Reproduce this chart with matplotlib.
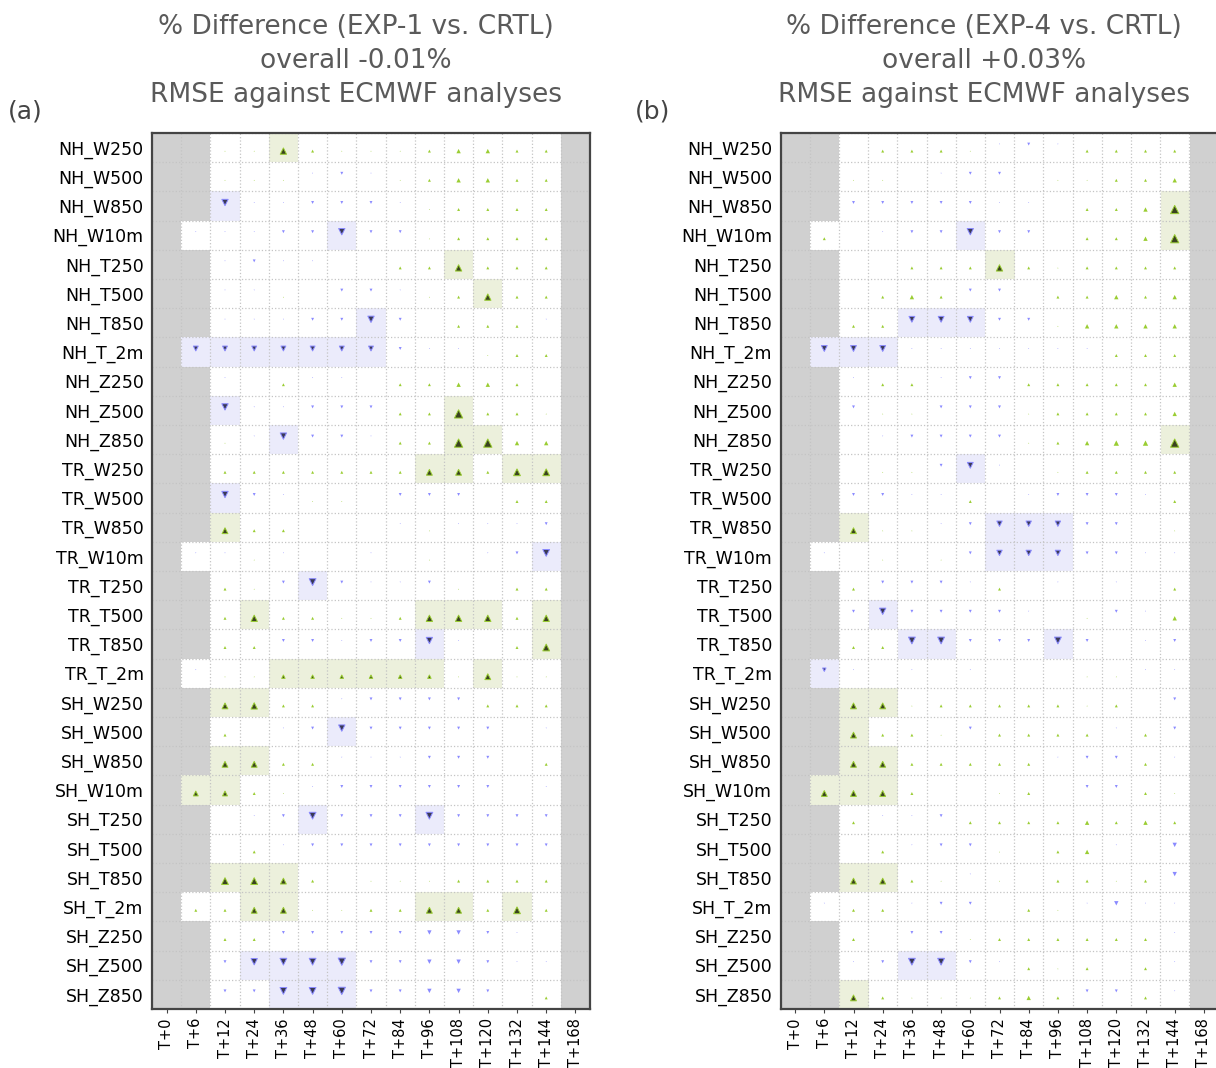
import numpy as np
import matplotlib
matplotlib.use("Agg")
import matplotlib.pyplot as plt

N = np.nan

rows = ["NH_W250", "NH_W500", "NH_W850", "NH_W10m", "NH_T250", "NH_T500", "NH_T850",
        "NH_T_2m", "NH_Z250", "NH_Z500", "NH_Z850",
        "TR_W250", "TR_W500", "TR_W850", "TR_W10m", "TR_T250", "TR_T500", "TR_T850", "TR_T_2m",
        "SH_W250", "SH_W500", "SH_W850", "SH_W10m", "SH_T250", "SH_T500", "SH_T850",
        "SH_T_2m", "SH_Z250", "SH_Z500", "SH_Z850"]
steps = ["T+0", "T+6", "T+12", "T+24", "T+36", "T+48", "T+60", "T+72", "T+84",
         "T+96", "T+108", "T+120", "T+132", "T+144", "T+168"]

# % difference per row / lead time (EXP-1 vs CRTL)
vals_a = [
    [N, N, .1, .1, .65, .3, .1, .1, .1, .3, .45, .45, .3, .3, N],
    [N, N, .1, .1, .1, -.1, -.3, -.1, .1, .3, .45, .45, .3, .3, N],
    [N, N, -.65, -.1, -.1, -.3, -.3, -.3, -.1, .1, .3, .3, .3, .3, N],
    [N, -.1, -.1, -.1, -.3, -.3, -.65, -.3, -.3, .1, .3, .3, .3, .3, N],
    [N, N, -.1, -.3, -.1, -.1, 0, 0, .3, .3, .65, .3, .3, .3, N],
    [N, N, -.1, -.1, .1, 0, -.3, -.3, -.1, .1, .3, .65, .3, .3, N],
    [N, N, -.1, -.1, -.1, -.3, -.3, -.65, -.3, 0, .3, .3, .3, -.1, N],
    [N, -.5, -.5, -.5, -.5, -.5, -.5, -.5, -.3, -.1, -.1, .1, .3, .3, N],
    [N, N, -.1, 0, .3, -.1, -.1, 0, .3, .3, .45, .45, .3, 0, N],
    [N, N, -.65, -.1, -.1, -.3, -.3, -.3, .3, .3, .85, .3, .3, .1, N],
    [N, N, .1, -.1, -.65, -.3, -.3, -.1, .3, .3, .85, .85, .45, .45, N],
    [N, N, .3, .3, .3, .3, .3, .3, .3, .6, .6, .3, .7, .7, N],
    [N, N, -.65, -.3, -.1, .1, .1, 0, -.3, -.3, -.3, 0, .3, .3, N],
    [N, N, .6, .3, .3, 0, 0, 0, -.1, .1, -.1, -.1, -.1, -.3, N],
    [N, -.1, -.1, .1, -.1, 0, 0, -.1, 0, .1, 0, -.1, -.3, -.7, N],
    [N, N, .3, .1, -.3, -.7, -.3, -.1, -.1, -.3, .1, 0, .3, .3, N],
    [N, N, .3, .65, .3, .3, .1, .1, .3, .65, .65, .65, .3, .65, N],
    [N, N, .3, .3, -.3, -.3, -.1, -.3, -.3, -.65, -.1, 0, .3, .7, N],
    [N, -.1, .1, .1, .35, .35, .35, .35, .35, .35, .1, .6, .1, .1, N],
    [N, N, .6, .65, .3, .3, -.1, -.3, -.3, -.3, -.3, .3, .3, .3, N],
    [N, N, .3, 0, -.1, -.3, -.65, -.3, -.3, -.3, -.3, -.3, 0, -.1, N],
    [N, N, .6, .6, .3, .3, -.1, -.1, -.1, -.3, -.3, -.3, 0, .3, N],
    [N, .5, .5, .3, .1, -.1, -.3, -.3, -.3, -.3, -.3, -.3, 0, -.1, N],
    [N, N, 0, -.1, -.3, -.7, -.3, -.3, -.3, -.7, -.3, -.3, -.3, -.3, N],
    [N, N, 0, .3, -.1, -.3, -.3, -.3, -.3, -.3, -.3, -.3, -.3, -.3, N],
    [N, N, .7, .7, .6, .3, 0, .1, .1, .1, .3, .3, .3, .3, N],
    [N, .3, .3, .6, .6, .1, .1, .3, .3, .6, .6, .3, .7, .3, N],
    [N, N, .3, .3, -.3, -.3, -.3, -.3, -.3, -.45, -.45, -.3, -.1, 0, N],
    [N, N, -.3, -.65, -.7, -.7, -.75, -.3, -.3, -.45, -.45, -.3, -.1, -.1, N],
    [N, N, -.3, -.3, -.7, -.7, -.75, -.3, -.3, -.45, -.45, -.3, 0, .3, N],
]
# significant cells (column indices per row)
sig_a = [[4], [], [2], [6], [10], [11], [7], [1, 2, 3, 4, 5, 6, 7], [], [2, 10],
         [4, 10, 11], [9, 10, 12, 13], [2], [2], [13], [5], [3, 9, 10, 11, 13], [9, 13],
         [4, 5, 6, 7, 8, 9, 11], [2, 3], [6], [2, 3], [1, 2], [5, 9], [], [2, 3, 4],
         [3, 4, 9, 10, 12], [], [3, 4, 5, 6], [4, 5, 6]]

# % difference per row / lead time (EXP-4 vs CRTL)
vals_b = [
    [N, N, 0, .3, .3, .3, .1, -.1, -.3, -.1, .3, .3, .3, .3, N],
    [N, N, .1, .1, 0, -.1, -.3, -.3, 0, .1, .1, .3, .3, .45, N],
    [N, N, -.3, -.3, -.3, -.3, -.3, -.1, -.1, 0, .3, .3, .45, .85, N],
    [N, .3, 0, -.1, -.3, -.3, -.65, -.3, -.3, 0, .3, .3, .45, .85, N],
    [N, N, 0, 0, .3, .3, .3, .65, .3, .1, .3, .3, .3, .3, N],
    [N, N, 0, .3, .45, .3, -.3, -.3, 0, .3, .3, .45, .3, .45, N],
    [N, N, .3, .3, -.6, -.6, -.6, -.3, -.3, .1, .45, .45, .45, .45, N],
    [N, -.6, -.6, -.6, -.1, -.1, -.1, -.1, -.1, -.1, -.1, .3, .3, .3, N],
    [N, N, -.1, .3, .3, -.1, -.3, -.3, .3, .3, .3, .3, .3, .45, N],
    [N, N, -.3, .1, .1, -.3, -.3, -.3, .1, .3, .3, .3, .3, .45, N],
    [N, N, 0, -.1, -.3, -.3, -.3, -.3, .1, .3, .45, .55, .55, .85, N],
    [N, N, 0, .1, .1, -.3, -.6, -.1, 0, .1, .3, .3, .3, .3, N],
    [N, N, -.3, -.3, -.1, -.1, .3, 0, -.1, -.3, -.3, -.3, -.1, .3, N],
    [N, N, .6, .1, .1, -.1, -.3, -.55, -.55, -.55, -.3, -.3, 0, .1, N],
    [N, -.1, 0, .1, 0, .1, -.3, -.55, -.55, -.55, -.3, -.3, -.1, -.1, N],
    [N, N, .3, -.3, -.3, -.3, -.1, .3, 0, -.1, 0, -.1, 0, .3, N],
    [N, N, -.3, -.65, -.3, -.3, -.3, -.3, -.1, 0, .1, -.3, -.1, .45, N],
    [N, N, .3, .3, -.7, -.7, -.3, -.3, -.3, -.7, -.3, 0, -.1, -.3, N],
    [N, -.35, -.1, 0, -.1, 0, -.1, 0, 0, 0, .1, .1, -.1, -.1, N],
    [N, N, .6, .6, .1, .3, .3, .3, .3, .3, .1, .3, 0, -.3, N],
    [N, N, .6, .3, .3, .1, -.3, .3, .3, .3, .3, -.1, .3, -.3, N],
    [N, N, .6, .6, .3, .3, .3, .3, .3, -.1, -.3, -.3, .3, -.1, N],
    [N, .6, .6, .6, .3, 0, 0, .1, .3, 0, -.3, -.3, .3, .1, N],
    [N, N, .3, -.1, -.1, -.3, .3, .3, .3, .3, .45, .3, .45, .3, N],
    [N, N, 0, .3, -.1, -.3, -.3, .1, 0, .3, .45, -.1, 0, -.45, N],
    [N, N, .6, .6, .3, .1, -.1, .1, 0, .3, .3, .1, .3, -.45, N],
    [N, -.1, .3, .3, -.1, -.3, -.3, 0, .3, .1, -.1, -.45, -.1, -.1, N],
    [N, N, .3, 0, -.3, -.3, .1, .3, .3, .3, .3, .3, .3, -.1, N],
    [N, N, -.1, -.3, -.7, -.7, -.3, -.1, .3, .1, .3, 0, .3, -.1, N],
    [N, N, .6, .3, .1, .1, .1, .3, .45, .3, -.3, -.3, .3, -.1, N],
]
sig_b = [[], [], [13], [6, 13], [7], [], [4, 5, 6], [1, 2, 3], [], [],
         [13], [6], [], [2, 7, 8, 9], [7, 8, 9], [], [3], [4, 5, 9], [1], [2, 3],
         [2], [2, 3], [1, 2, 3], [], [], [2, 3], [], [], [4, 5], [2]]

titles = [["% Difference (EXP-1 vs. CRTL)", "overall -0.01%", "RMSE against ECMWF analyses"],
          ["% Difference (EXP-4 vs. CRTL)", "overall +0.03%", "RMSE against ECMWF analyses"]]

GRAY = (0.816, 0.816, 0.816)
GOOD_BG = (0.929, 0.945, 0.863)
BAD_BG = (0.925, 0.925, 0.988)
GOOD = "#9acd32"
BAD = "#8a8aff"


def scorecard(ax, vals, sig):
    v = np.array(vals, dtype=float)
    nr, nc = v.shape
    mask = np.zeros(v.shape, bool)
    for r, cols in enumerate(sig):
        mask[r, cols] = True
    rgb = np.ones((nr, nc, 3))
    rgb[np.isnan(v)] = GRAY
    rgb[mask & (v > 0)] = GOOD_BG
    rgb[mask & (v < 0)] = BAD_BG
    ax.imshow(rgb, aspect="auto", interpolation="nearest",
              extent=(-0.5, nc - 0.5, nr - 0.5, -0.5), zorder=0)

    rr, cc = np.indices(v.shape)
    for sign, mk, dy, col, dark in [(1, "^", 0.12, GOOD, "#3a4220"),
                                    (-1, "v", -0.12, BAD, "#3a3a55")]:
        sel = np.sign(np.nan_to_num(v)) == sign
        plain = sel & ~mask
        ax.scatter(cc[plain], rr[plain] + dy, s=(7 * np.abs(v[plain])) ** 2,
                   marker=mk, c=col, linewidths=0, zorder=3)
        strong = sel & mask
        ax.scatter(cc[strong], rr[strong] + dy, s=(7 * np.abs(v[strong])) ** 2,
                   marker=mk, facecolors=dark, edgecolors=col, linewidths=0.7, zorder=4)

    ax.set_xlim(-0.5, nc - 0.5)
    ax.set_ylim(nr - 0.5, -0.5)
    ax.set_xticks(np.arange(nc))
    ax.set_xticklabels(steps, rotation=90, fontsize=10.5)
    ax.set_yticks(np.arange(nr))
    ax.set_yticklabels(rows, fontsize=12.5)
    ax.set_xticks(np.arange(nc + 1) - 0.5, minor=True)
    ax.set_yticks(np.arange(nr + 1) - 0.5, minor=True)
    ax.grid(which="minor", linestyle=":", color="#c4c4c4", linewidth=0.9)
    ax.tick_params(which="minor", length=0)
    ax.tick_params(axis="y", length=0, pad=6)
    ax.tick_params(axis="x", length=3, color="#444444")
    for s in ax.spines.values():
        s.set_color("#444444")
        s.set_linewidth(1.6)


fig = plt.figure(figsize=(12.16, 10.68), dpi=100)
W, H = 1216.0, 1068.0
ax_a = fig.add_axes([152 / W, 1 - 1009 / H, 438 / W, 876 / H])
ax_b = fig.add_axes([780.5 / W, 1 - 1009 / H, 438 / W, 876 / H])
scorecard(ax_a, vals_a, sig_a)
scorecard(ax_b, vals_b, sig_b)

for xc, lab_x, lab, t in [(356, 25, "(a)", titles[0]), (984, 653, "(b)", titles[1])]:
    for line, yc in zip(t, [27, 61, 95]):
        fig.text(xc / W, 1 - yc / H, line, ha="center", va="center", fontsize=19,
                 color="#5a5a5a")
    fig.text(lab_x / W, 1 - 111 / H, lab, ha="center", va="center", fontsize=18,
             color="#444444")

fig.savefig("out.png", dpi=100)
